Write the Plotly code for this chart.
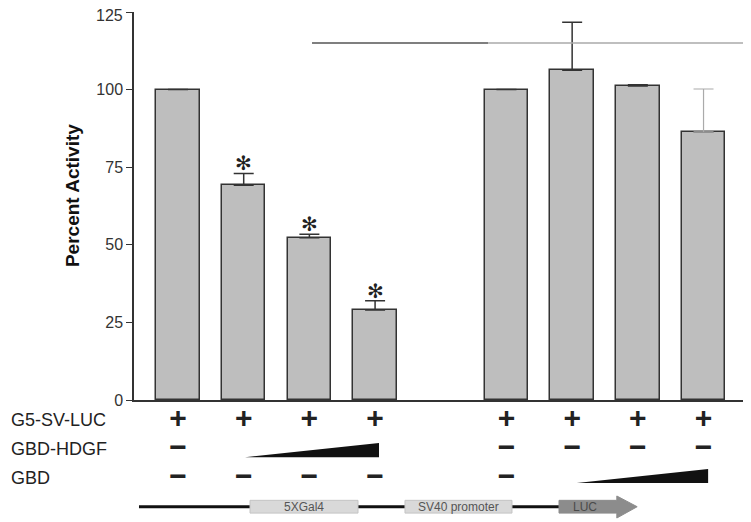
import plotly.graph_objects as go

# bar slots (slot 4 is the empty gap between the two groups)
positions = [0, 1, 2, 3, 5, 6, 7, 8]
activity = [100, 69.2, 52.3, 29.0, 100, 106.2, 101.2, 86.4]
error_up = [None, 3.8, 1.1, 3.0, None, 15.5, 0.4, 13.8]
significant = [False, True, True, True, False, False, False, False]

row_names = ["G5-SV-LUC", "GBD-HDGF", "GBD"]
g5_row = ["+", "+", "+", "+", "+", "+", "+", "+"]
gbd_hdgf_row = ["\u2212", "", "", "", "\u2212", "\u2212", "\u2212", "\u2212"]
gbd_row = ["\u2212", "\u2212", "\u2212", "\u2212", "\u2212", "", "", ""]

yticks = [0, 25, 50, 75, 100, 125]
ytick_text = ["0", "25", "50", "75", "100", ""]  # top label added below, nudged inside the page

bar_fill = "#bebebe"
edge = "#333333"
x_range = [-0.670, 8.677]
arial = "Arial, Liberation Sans"

fig = go.Figure()

# main bars, the last error bar is drawn separately in light grey
fig.add_trace(go.Bar(
    x=positions, y=activity, width=0.66,
    marker=dict(color=bar_fill, line=dict(color=edge, width=1.5)),
    error_y=dict(type="data", symmetric=False, array=error_up[:-1] + [None],
                 arrayminus=[0] * len(positions), color=edge, thickness=1.5, width=10),
    showlegend=False, hoverinfo="skip",
))
fig.add_trace(go.Scatter(
    x=positions[-1:], y=activity[-1:], mode="markers",
    marker=dict(size=1, color="rgba(0,0,0,0)"),
    error_y=dict(type="data", symmetric=False, array=error_up[-1:], arrayminus=[0],
                 color="#aaaaaa", thickness=1.2, width=10),
    showlegend=False, hoverinfo="skip",
))

# significance stars
for x, y, e, s in zip(positions, activity, error_up, significant):
    if s:
        fig.add_annotation(x=x, y=y + e, xref="x", yref="y", text="\u273b",
                           showarrow=False, yanchor="middle", yshift=10,
                           font=dict(size=20, color="#222", family="DejaVu Sans"))

# condition rows below the axis
row_font = dict(family=arial, color="#222", weight="bold")
for r, row in enumerate([g5_row, gbd_hdgf_row, gbd_row]):
    fig.add_trace(go.Scatter(x=positions, y=[r] * 8, yaxis="y2", mode="text", text=row,
                             textfont=dict(size=30, **row_font), showlegend=False,
                             hoverinfo="skip", cliponaxis=False))

# increasing-dose wedges
fig.add_trace(go.Scatter(x=[1.02, 3.06, 3.06, 1.02], y=[1.28, 0.79, 1.28, 1.28], yaxis="y2",
                         mode="lines", fill="toself", fillcolor="#111", line=dict(width=0),
                         showlegend=False, hoverinfo="skip"))
fig.add_trace(go.Scatter(x=[6.07, 8.07, 8.07, 6.07], y=[2.17, 1.69, 2.17, 2.17], yaxis="y2",
                         mode="lines", fill="toself", fillcolor="#111", line=dict(width=0),
                         showlegend=False, hoverinfo="skip"))

for i, name in enumerate(row_names):
    fig.add_annotation(x=(9 - 134) / 614, y=i, xref="paper", yref="y2", text=name,
                       showarrow=False, xanchor="left", yanchor="middle",
                       font=dict(size=18, color="#222", family=arial))

# reporter construct diagram
fig.add_shape(type="line", xref="x", yref="y2", x0=-0.594, x1=5.80, y0=2.99, y1=2.99,
              line=dict(color="#111", width=3), layer="below")
for x0, x1, label in [(1.096, 2.740, "5XGal4"), (3.455, 5.084, "SV40 promoter")]:
    fig.add_shape(type="rect", xref="x", yref="y2", x0=x0, x1=x1, y0=2.77, y1=3.21,
                  fillcolor="#d9d9d9", line=dict(color="#c4c4c4", width=1))
    fig.add_annotation(x=(x0 + x1) / 2, y=2.99, xref="x", yref="y2", text=label, showarrow=False,
                       font=dict(size=12, color="#555", family=arial))
fig.add_shape(type="path", xref="x", yref="y2",
              path="M 5.80 2.77 L 6.68 2.77 L 6.68 2.62 L 6.99 2.99 L 6.68 3.38 L 6.68 3.21 L 5.80 3.21 Z",
              fillcolor="#8c8c8c", line=dict(color="#8c8c8c", width=1))
fig.add_annotation(x=6.2, y=2.99, xref="x", yref="y2", text="LUC", showarrow=False,
                   font=dict(size=12, color="#4a4a4a", family=arial))

# bracket line over the right group
fig.add_shape(type="line", xref="x", yref="y", x0=2.04, x1=4.72, y0=115, y1=115,
              line=dict(color="#555", width=1.5))
fig.add_shape(type="line", xref="x", yref="y", x0=4.72, x1=8.70, y0=115, y1=115,
              line=dict(color="#aaa", width=1.5))

fig.add_annotation(x=(72 - 134) / 614, y=65.7, xref="paper", yref="y", text="<b>Percent Activity</b>",
                   textangle=-90, showarrow=False, xanchor="center", yanchor="middle",
                   font=dict(size=19, color="#111", family=arial))

# top tick label, pushed down a little so it is not clipped by the page edge
fig.add_annotation(x=0, y=yticks[-1], xref="paper", yref="y", text=str(yticks[-1]),
                   showarrow=False, xanchor="right", yanchor="middle", xshift=-9, yshift=-3,
                   font=dict(size=16, color="#333", family=arial))

# the page body adds an 8px offset, so the figure is 8px smaller than the window
fig.update_layout(
    width=743, height=514,
    margin=dict(l=126, r=3, t=4, b=0),
    plot_bgcolor="white", paper_bgcolor="white",
    bargap=0,
    xaxis=dict(range=x_range, showline=True, linecolor="#333", linewidth=1.5,
               showticklabels=False, ticks="", showgrid=False, zeroline=False, automargin=False),
    yaxis=dict(domain=[(522 - 400) / 510, 1], range=[0, 125], tickvals=yticks, ticktext=ytick_text,
               showline=True, linecolor="#333", linewidth=1.5, ticks="outside", ticklen=6,
               tickcolor="#333", tickfont=dict(size=16, color="#333", family=arial),
               showgrid=False, zeroline=False, automargin=False),
    yaxis2=dict(domain=[0, (522 - 402) / 510], range=[3.517, -0.621], visible=False,
                anchor="x", automargin=False),
)

fig.write_html("out.html")
